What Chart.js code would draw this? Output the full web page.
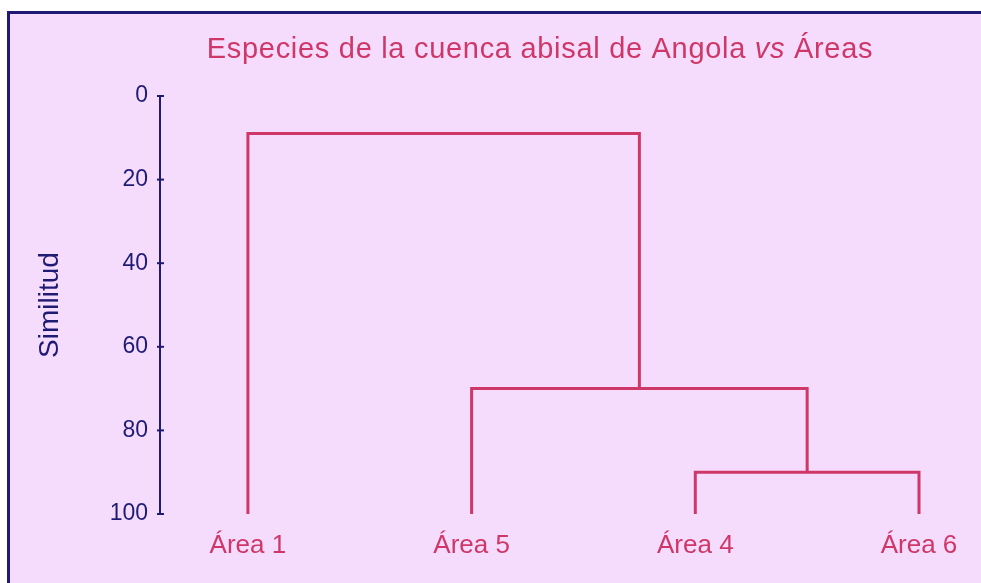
<!DOCTYPE html>
<html>
<head>
<meta charset="utf-8">
<script src="https://cdn.jsdelivr.net/npm/chart.js@4.4.0/dist/chart.umd.min.js"></script>
<style>
    html, body { margin: 0; padding: 0; background: #ffffff; overflow: hidden; }
    #frame {
        position: absolute;
        left: 7px;
        top: 11px;
        width: 971px;
        height: 569px;
        background: #f6dcfc;
        border-top: 3px solid #1f1b75;
        border-left: 3px solid #1f1b75;
    }
    #frame canvas { display: block; }
</style>
</head>
<body>
<div id="frame"><canvas id="dendro" width="971" height="569"></canvas></div>
<script>
// Leaves in drawing order and the merges (node ids: 0-3 leaves, 4+ merges)
const leafLabels = ['Área 1', 'Área 5', 'Área 4', 'Área 6'];
const mergeLeft = [2, 1, 0];
const mergeRight = [3, 4, 5];
const mergeHeights = [90, 70, 9];
const yTicks = [0, 20, 40, 60, 80, 100];
const leafHeight = 100;

const pink = '#cf3768';
const navy = '#1f1b75';
const fontFamily = '"Liberation Sans", Arial, sans-serif';

// Node positions in data units
const nodeX = leafLabels.map((_, i) => i);
const nodeY = leafLabels.map(() => leafHeight);
const datasets = [];
mergeHeights.forEach((h, i) => {
    const l = mergeLeft[i];
    const r = mergeRight[i];
    datasets.push({
        data: [
            { x: nodeX[l], y: nodeY[l] },
            { x: nodeX[l], y: h },
            { x: nodeX[r], y: h },
            { x: nodeX[r], y: nodeY[r] }
        ],
        borderColor: pink,
        borderWidth: 3,
        pointRadius: 0,
        tension: 0,
        fill: false
    });
    nodeX.push((nodeX[l] + nodeX[r]) / 2);
    nodeY.push(h);
});

// Title with italic "vs" plus the small cross ticks on the y axis
const decorPlugin = {
    id: 'decor',
    afterDraw(chart) {
        const ctx = chart.ctx;
        const parts = [
            ['Especies de la cuenca abisal de Angola ', 'normal'],
            ['vs', 'italic'],
            [' Áreas', 'normal']
        ];
        ctx.save();
        ctx.fillStyle = pink;
        ctx.textBaseline = 'alphabetic';
        ctx.textAlign = 'left';
        ctx.letterSpacing = '0.7px';
        let total = 0;
        parts.forEach(p => {
            ctx.font = p[1] + ' 29px ' + fontFamily;
            total += ctx.measureText(p[0]).width;
        });
        let x = 530 - total / 2;
        parts.forEach(p => {
            ctx.font = p[1] + ' 29px ' + fontFamily;
            ctx.fillText(p[0], x, 44);
            x += ctx.measureText(p[0]).width;
        });
        ctx.letterSpacing = '0px';

        const yScale = chart.scales.y;
        const ax = chart.chartArea.left;
        ctx.strokeStyle = navy;
        ctx.lineWidth = 2;
        yScale.ticks.forEach(t => {
            const py = yScale.getPixelForValue(t.value);
            ctx.beginPath();
            ctx.moveTo(ax - 3, py);
            ctx.lineTo(ax + 4, py);
            ctx.stroke();
        });
        ctx.restore();
    }
};

const chart = new Chart(document.getElementById('dendro'), {
    type: 'line',
    data: { datasets: datasets },
    options: {
        responsive: false,
        animation: false,
        layout: { padding: { top: 82, right: 11, left: 0, bottom: 0 } },
        plugins: {
            legend: { display: false },
            tooltip: { enabled: false },
            title: { display: false }
        },
        scales: {
            x: {
                type: 'linear',
                min: -0.393,
                max: 3.228,
                grid: { display: false },
                border: { display: false },
                afterBuildTicks: scale => {
                    scale.ticks = leafLabels.map((_, i) => ({ value: i }));
                },
                afterFit: scale => { scale.height = 69; },
                ticks: {
                    autoSkip: false,
                    maxRotation: 0,
                    padding: 8,
                    color: pink,
                    font: { family: fontFamily, size: 26 },
                    callback: value => leafLabels[value]
                }
            },
            y: {
                type: 'linear',
                reverse: true,
                min: 0,
                max: 100,
                grid: { display: false, drawTicks: false },
                border: { display: true, color: navy, width: 2 },
                afterBuildTicks: scale => {
                    scale.ticks = yTicks.map(v => ({ value: v }));
                },
                afterFit: scale => { scale.width = 150; },
                ticks: {
                    padding: 12,
                    color: navy,
                    font: { family: fontFamily, size: 23 }
                },
                title: {
                    display: true,
                    text: 'Similitud',
                    color: navy,
                    padding: { top: 23, bottom: 0 },
                    font: { family: fontFamily, size: 28 }
                }
            }
        }
    },
    plugins: [decorPlugin]
});
</script>
</body>
</html>
